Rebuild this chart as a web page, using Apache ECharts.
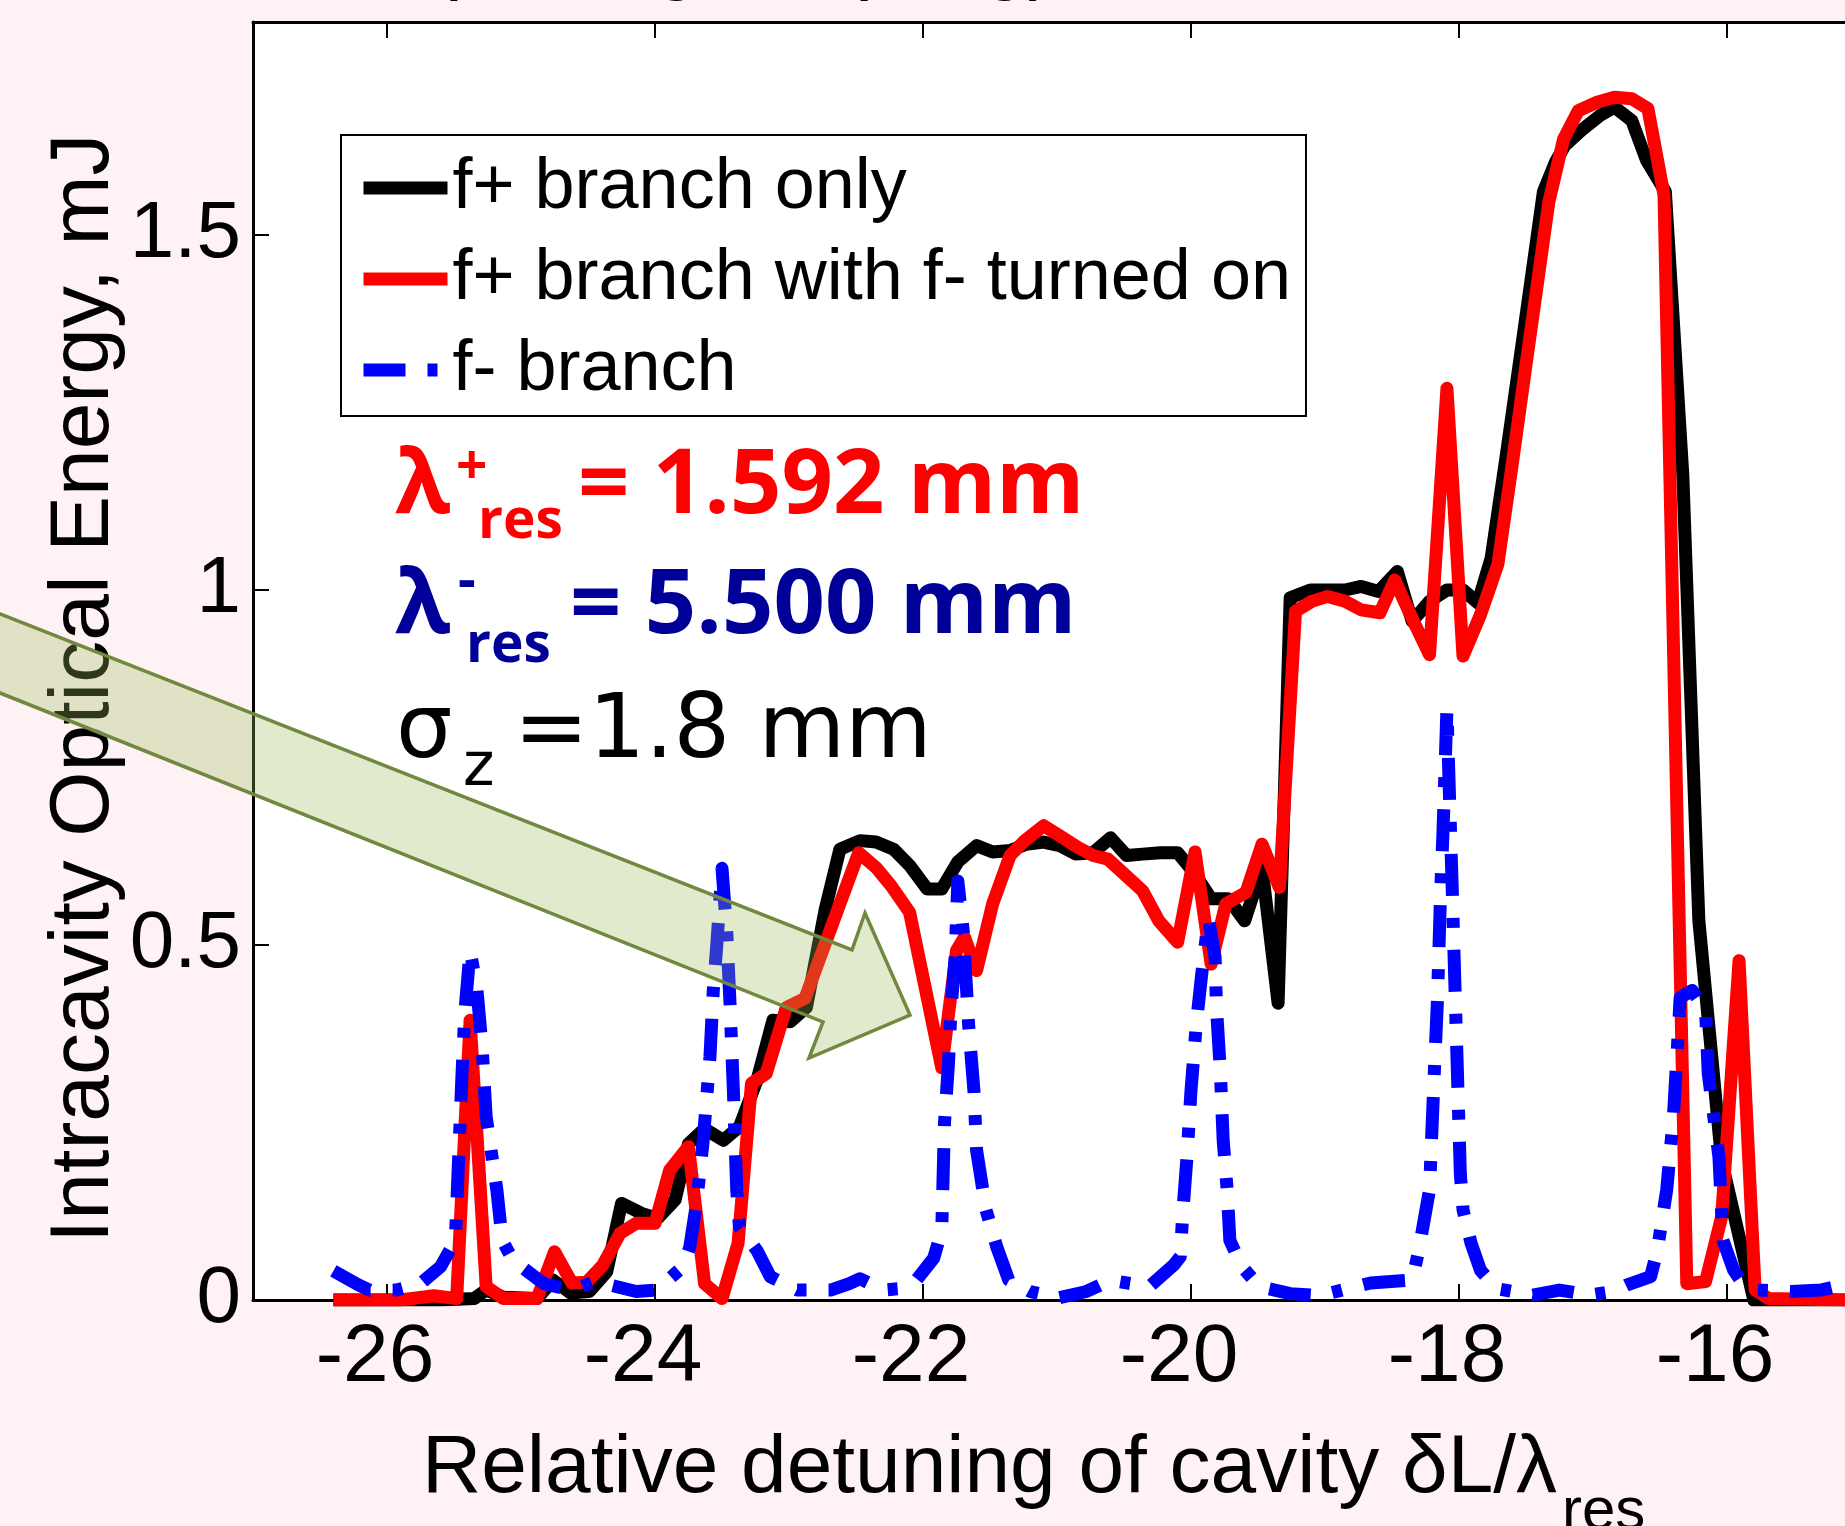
<!DOCTYPE html>
<html><head><meta charset="utf-8">
<script src="https://cdn.jsdelivr.net/npm/echarts@6/dist/echarts.min.js"></script>
<style>html,body{margin:0;padding:0;background:#fff2f5;}#c{width:1845px;height:1526px;}</style>
</head><body><div id="c"></div>
<script>
const xTicks = [-26, -24, -22, -20, -18, -16];
const yTicks = [0, 0.5, 1, 1.5];
const seriesNames = ['f+ branch only', 'f+ branch with f- turned on', 'f- branch'];

const blackX = [-26.40,-25.60,-25.35,-25.26,-25.13,-24.88,-24.76,-24.63,-24.49,-24.36,-24.25,-24.10,-23.98,-23.85,-23.75,-23.63,-23.49,-23.37,-23.24,-23.12,-22.99,-22.87,-22.73,-22.62,-22.47,-22.35,-22.22,-22.10,-21.97,-21.86,-21.74,-21.60,-21.48,-21.35,-21.23,-21.10,-20.98,-20.86,-20.73,-20.60,-20.48,-20.36,-20.23,-20.10,-19.97,-19.85,-19.72,-19.60,-19.47,-19.35,-19.26,-19.11,-18.98,-18.85,-18.73,-18.60,-18.46,-18.35,-18.22,-18.09,-17.97,-17.86,-17.76,-17.65,-17.52,-17.37,-17.28,-17.21,-17.09,-16.95,-16.84,-16.71,-16.60,-16.46,-16.33,-16.21,-16.04,-15.80,-15.10];
const blackY = [0,0,0.002,0.014,0.004,0.002,0.028,0.010,0.012,0.040,0.136,0.122,0.115,0.141,0.220,0.241,0.225,0.244,0.309,0.394,0.392,0.412,0.550,0.635,0.647,0.645,0.635,0.612,0.579,0.579,0.617,0.640,0.631,0.633,0.642,0.645,0.640,0.628,0.630,0.651,0.626,0.628,0.630,0.630,0.600,0.565,0.565,0.534,0.609,0.418,0.989,1.000,1.000,1.000,1.005,0.998,1.026,0.956,0.984,1.000,1.000,0.982,1.045,1.186,1.359,1.561,1.603,1.626,1.647,1.668,1.680,1.661,1.605,1.561,1.163,0.534,0.196,0,0];

const redX = [-26.40,-25.90,-25.65,-25.48,-25.38,-25.26,-25.13,-24.88,-24.75,-24.62,-24.51,-24.39,-24.26,-24.14,-24.00,-23.89,-23.75,-23.63,-23.50,-23.38,-23.28,-23.17,-23.02,-22.88,-22.48,-22.35,-22.24,-22.10,-21.86,-21.75,-21.69,-21.60,-21.48,-21.35,-21.24,-21.10,-20.98,-20.84,-20.73,-20.62,-20.51,-20.36,-20.24,-20.10,-19.97,-19.85,-19.74,-19.59,-19.47,-19.34,-19.22,-19.10,-18.98,-18.85,-18.73,-18.59,-18.48,-18.34,-18.22,-18.09,-17.97,-17.84,-17.71,-17.60,-17.50,-17.33,-17.22,-17.11,-16.97,-16.84,-16.71,-16.59,-16.47,-16.30,-16.16,-16.04,-15.91,-15.79,-15.69,-15.10];
const redY = [0,0,0.006,0.002,0.394,0.019,0.002,0.002,0.068,0.024,0.025,0.049,0.094,0.108,0.108,0.183,0.216,0.023,0.002,0.080,0.305,0.319,0.412,0.425,0.630,0.609,0.584,0.546,0.327,0.492,0.511,0.464,0.558,0.626,0.647,0.668,0.654,0.637,0.626,0.621,0.602,0.576,0.534,0.504,0.631,0.473,0.558,0.574,0.642,0.581,0.970,0.984,0.991,0.984,0.972,0.968,1.014,0.956,0.909,1.284,0.907,0.965,1.036,1.181,1.317,1.546,1.635,1.675,1.687,1.694,1.692,1.678,1.556,0.023,0.026,0.117,0.478,0.014,0.002,0];

const blueX = [-26.40,-26.21,-26.13,-25.93,-25.75,-25.60,-25.49,-25.47,-25.44,-25.42,-25.38,-25.33,-25.29,-25.26,-25.18,-25.14,-25.06,-24.83,-24.63,-24.44,-24.14,-23.99,-23.79,-23.74,-23.69,-23.64,-23.59,-23.565,-23.54,-23.50,-23.465,-23.44,-23.415,-23.39,-23.37,-23.24,-23.14,-22.94,-22.69,-22.55,-22.47,-22.30,-22.17,-22.05,-21.92,-21.86,-21.84,-21.81,-21.79,-21.76,-21.74,-21.70,-21.66,-21.62,-21.60,-21.53,-21.45,-21.36,-21.20,-20.99,-20.78,-20.60,-20.48,-20.31,-20.13,-20.08,-20.06,-20.03,-20.00,-19.96,-19.92,-19.87,-19.82,-19.81,-19.78,-19.76,-19.73,-19.71,-19.62,-19.49,-19.26,-19.04,-18.66,-18.35,-18.30,-18.22,-18.19,-18.16,-18.14,-18.12,-18.09,-18.07,-18.05,-18.03,-18.01,-17.99,-17.97,-17.91,-17.84,-17.72,-17.45,-17.25,-17.02,-16.85,-16.75,-16.57,-16.52,-16.45,-16.40,-16.36,-16.35,-16.26,-16.16,-16.14,-16.06,-16.03,-15.95,-15.90,-15.77,-15.52,-15.30,-15.09];
const blueY = [0.041,0.021,0.014,0.014,0.023,0.047,0.084,0.178,0.319,0.403,0.492,0.440,0.356,0.258,0.155,0.084,0.056,0.023,0.014,0.026,0.012,0.014,0.047,0.075,0.136,0.225,0.342,0.436,0.497,0.608,0.520,0.417,0.295,0.155,0.103,0.070,0.033,0.014,0.014,0.023,0.030,0.014,0.016,0.028,0.059,0.098,0.248,0.333,0.412,0.483,0.590,0.520,0.389,0.295,0.211,0.127,0.075,0.028,0.012,0.003,0.012,0.028,0.024,0.019,0.049,0.061,0.127,0.201,0.295,0.389,0.459,0.537,0.483,0.412,0.319,0.225,0.155,0.084,0.047,0.019,0.009,0.006,0.024,0.028,0.070,0.155,0.295,0.426,0.558,0.656,0.833,0.703,0.576,0.440,0.309,0.178,0.127,0.080,0.042,0.016,0.007,0.014,0.007,0.012,0.021,0.033,0.070,0.155,0.258,0.389,0.426,0.436,0.408,0.319,0.201,0.084,0.042,0.028,0.014,0.012,0.014,0.023];

const zip = (xs, ys) => xs.map((x, i) => [x, ys[i]]);
const AX = '#000';
const FONT = 'Liberation Sans';
const LW = 13;

function xAxisDef(pos, labels) {
  return {
    type: 'value', min: -27, max: -15, position: pos,
    axisLine: { show: true, onZero: false, lineStyle: { color: AX, width: 3 } },
    axisTick: { show: true, inside: true, length: 16, customValues: xTicks, lineStyle: { color: AX, width: 2 } },
    axisLabel: { show: labels, customValues: xTicks, fontSize: 82, fontFamily: FONT, color: AX, margin: 17, padding: [0, 24, 0, 0] },
    splitLine: { show: false }
  };
}
function yAxisDef(pos, labels) {
  return {
    type: 'value', min: 0, max: 1.8, position: pos,
    axisLine: { show: true, onZero: false, lineStyle: { color: AX, width: 3 } },
    axisTick: { show: true, inside: true, length: 16, customValues: yTicks, lineStyle: { color: AX, width: 2 } },
    axisLabel: { show: labels, customValues: yTicks, fontSize: 80, fontFamily: FONT, color: AX, margin: 12 },
    splitLine: { show: false }
  };
}
function txt(x, y, text, font, fill, rot) {
  const e = { type: 'text', x: x, y: y, z: 50, style: { text: text, font: font, fill: fill, textAlign: 'left', textVerticalAlign: 'middle' } };
  if (rot) e.rotation = rot;
  return e;
}

const chart = echarts.init(document.getElementById('c'), null, { renderer: 'canvas' });
const RED = '#ff0000', NAVY = '#000099';
const option = {
  backgroundColor: '#fff2f5',
  animation: false,
  grid: { left: 253, top: 22, width: 1608, height: 1278, containLabel: false, outerBoundsMode: 'none',
          show: true, backgroundColor: '#ffffff', borderWidth: 0 },
  xAxis: [xAxisDef('bottom', true), xAxisDef('top', false)],
  yAxis: [yAxisDef('left', true), yAxisDef('right', false)],
  legend: {
    orient: 'vertical', left: 341, top: 135,
    data: seriesNames,
    itemWidth: 84, itemHeight: 14, itemGap: 19,
    padding: [17, 15, 10, 16],
    backgroundColor: '#ffffff', borderColor: '#000', borderWidth: 2, borderRadius: 0,
    itemStyle: { opacity: 0 },
    lineStyle: { width: LW },
    textStyle: { fontSize: 72, fontFamily: FONT, color: '#000' }
  },
  series: [
    { type: 'line', name: seriesNames[0], data: zip(blackX, blackY), symbol: 'none', z: 2,
      lineStyle: { color: '#000000', width: LW, join: 'round' }, itemStyle: { color: '#000000' } },
    { type: 'line', name: seriesNames[1], data: zip(redX, redY), symbol: 'none', z: 3,
      lineStyle: { color: RED, width: LW, join: 'round' }, itemStyle: { color: RED } },
    { type: 'line', name: seriesNames[2], data: zip(blueX, blueY), symbol: 'none', z: 4,
      lineStyle: { color: '#0000ff', width: LW, type: [42, 22, 10, 22], cap: 'butt', join: 'round' }, itemStyle: { color: '#0000ff' } }
  ],
  graphic: [
    txt(431, -39, '(Strong coupling)', '82px "Liberation Sans"', '#000'),
    { type: 'polygon', z: 100, shape: { points: [[-10, 610], [852, 950], [865, 913], [910, 1015], [809, 1058], [823, 1022], [-10, 689]] },
      style: { fill: 'rgba(155,187,89,0.3)', stroke: '#71893f', lineWidth: 3.5, lineJoin: 'miter' } },
    txt(85, 1243, 'Intracavity Optical Energy, mJ', '84px "Liberation Sans"', '#000', Math.PI / 2),
    txt(422, 1469, 'Relative detuning of cavity δL/λ', '82px "Liberation Sans"', '#000'),
    txt(1562, 1512, 'res', '60px "Liberation Sans"', '#000'),
    txt(395, 487, 'λ', 'bold 90px "Open Sans"', RED),
    txt(456, 468, '+', 'bold 55px "Open Sans"', RED),
    txt(478, 522, 'res', 'bold 55px "Open Sans"', RED),
    txt(578, 487, '= 1.592 mm', 'bold 90px "Open Sans"', RED),
    txt(395, 607, 'λ', 'bold 90px "Open Sans"', NAVY),
    txt(458, 583, '-', 'bold 55px "Open Sans"', NAVY),
    txt(466, 646, 'res', 'bold 55px "Open Sans"', NAVY),
    txt(570, 607, '= 5.500 mm', 'bold 90px "Open Sans"', NAVY),
    txt(396, 734, 'σ', '89px "DejaVu Sans"', '#000'),
    txt(463, 769, 'z', '60px "DejaVu Sans"', '#000'),
    txt(514, 734, '=1.8 mm', '89px "DejaVu Sans"', '#000')
  ]
};
chart.setOption(option);
</script>
</body></html>
